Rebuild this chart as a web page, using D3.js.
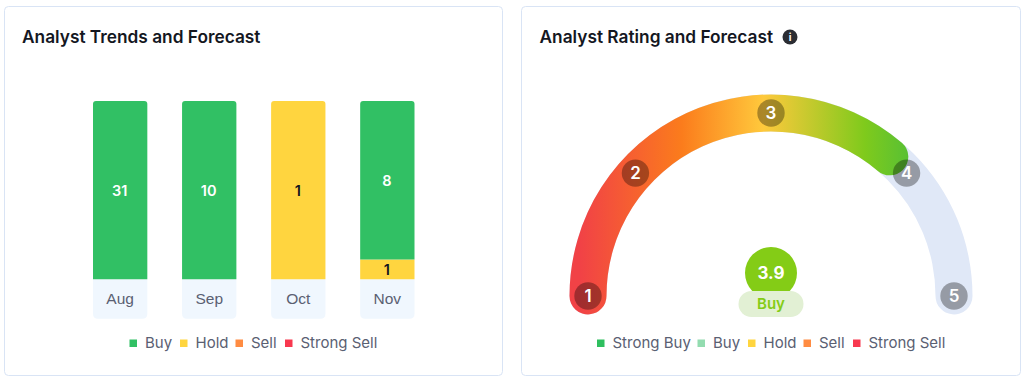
<!DOCTYPE html>
<html>
<head>
<meta charset="utf-8">
<script src="https://cdn.jsdelivr.net/npm/d3@7"></script>
<style>
    html, body { margin: 0; padding: 0; background: #fff; }
    svg { display: block; font-family: Inter, "Noto Sans", sans-serif; }
</style>
</head>
<body>
<div id="chart"></div>
<script>
// --------------- Data --------------- //

const months = ["Aug", "Sep", "Oct", "Nov"];
const stackKeys = ["Hold", "Buy"];
const buyCounts = [31, 10, 0, 8];
const holdCounts = [0, 0, 1, 1];

const trendLegend = ["Buy", "Hold", "Sell", "Strong Sell"];
const ratingLegend = ["Strong Buy", "Buy", "Hold", "Sell", "Strong Sell"];

const ratingTicks = [1, 2, 3, 4, 5];
const ratingTickDegrees = [-90, -47.8, 0, 47.8, 90];
const ratingValue = 3.9;
const ratingLabel = "Buy";

const colors = {
    "Strong Buy": "#2fbf5f",
    Buy: "#31c064",
    Hold: "#ffd53f",
    Sell: "#ff8c42",
    "Strong Sell": "#f8384f",
};

// --------------- Canvas --------------- //

const width = 1024;
const height = 380;
const svg = d3.select("#chart").append("svg").attr("width", width).attr("height", height);

const cards = [
    { x: 4.5, w: 498, title: "Analyst Trends and Forecast", tx: 22 },
    { x: 521.5, w: 499, title: "Analyst Rating and Forecast", tx: 539.5 },
];

svg.selectAll("rect.card")
    .data(cards)
    .join("rect")
    .attr("class", "card")
    .attr("x", (d) => d.x)
    .attr("y", 6.5)
    .attr("width", (d) => d.w)
    .attr("height", 369)
    .attr("rx", 4)
    .attr("fill", "#fff")
    .attr("stroke", "#d9e4f5");

svg.selectAll("text.title")
    .data(cards)
    .join("text")
    .attr("class", "title")
    .attr("x", (d) => d.tx)
    .attr("y", 43)
    .attr("font-size", 17.3)
    .attr("font-weight", 600)
    .attr("fill", "#14171f")
    .text((d) => d.title);

// --------------- Stacked Bars --------------- //

const barTop = 101;
const barBase = 279.3;
const labelBoxBottom = 318.7;

const x = d3.scaleBand().domain(months).range([93, 414.5]).paddingInner(0.39);
const y = d3.scaleLinear().domain([0, 1]).range([barBase, barTop]);

const rows = months.map((m, i) => ({ month: m, Buy: buyCounts[i], Hold: holdCounts[i] }));
const series = d3.stack().keys(stackKeys).offset(d3.stackOffsetExpand)(rows);

// Rounded only on the corners named by top/bottom
const roundedBar = (bx, by, bw, bh, top, bottom) =>
    [
        `M${bx},${by + top}`,
        `Q${bx},${by} ${bx + top},${by}`,
        `H${bx + bw - top}`,
        `Q${bx + bw},${by} ${bx + bw},${by + top}`,
        `V${by + bh - bottom}`,
        `Q${bx + bw},${by + bh} ${bx + bw - bottom},${by + bh}`,
        `H${bx + bottom}`,
        `Q${bx},${by + bh} ${bx},${by + bh - bottom}`,
        "Z",
    ].join(" ");

// Label boxes under the bars
svg.selectAll("path.month-box")
    .data(months)
    .join("path")
    .attr("class", "month-box")
    .attr("fill", "#f0f7fe")
    .attr("d", (m) => roundedBar(x(m), barBase, x.bandwidth(), labelBoxBottom - barBase, 0, 5));

const segments = series.flatMap((s) =>
    s.map((d) => ({ key: s.key, month: d.data.month, y0: d[0], y1: d[1], count: d.data[s.key] }))
).filter((d) => d.count > 0);

svg.selectAll("path.segment")
    .data(segments)
    .join("path")
    .attr("class", "segment")
    .attr("fill", (d) => colors[d.key])
    .attr("d", (d) =>
        roundedBar(x(d.month), y(d.y1), x.bandwidth(), y(d.y0) - y(d.y1), d.y1 === 1 ? 3 : 0, 0)
    );

svg.selectAll("text.segment-label")
    .data(segments)
    .join("text")
    .attr("class", "segment-label")
    .attr("x", (d) => x(d.month) + x.bandwidth() / 2 - 0.5)
    .attr("y", (d) => y((d.y0 + d.y1) / 2))
    .attr("dy", "0.42em")
    .attr("text-anchor", "middle")
    .attr("font-size", 14.5)
    .attr("font-weight", 600)
    .attr("fill", (d) => (d.key === "Hold" ? "#14171f" : "#fff"))
    .text((d) => d.count);

const xAxis = svg
    .append("g")
    .attr("transform", `translate(0,${barBase})`)
    .call(d3.axisBottom(x).tickSize(0).tickPadding(14));
xAxis.select(".domain").remove();
xAxis.selectAll("text")
    .attr("font-family", "inherit")
    .attr("font-size", 15.5)
    .attr("fill", "#5a6072");

// --------------- Legends --------------- //

// The rating legend uses a pale green for Buy
const legendColor = (names, name) =>
    names.length === 5 && name === "Buy" ? "#93dcb0" : colors[name];

const drawLegend = (names, markerXs) => {
    const g = svg.append("g");
    names.forEach((name, i) => {
        g.append("rect")
            .attr("x", markerXs[i])
            .attr("y", 339.5)
            .attr("width", 7.5)
            .attr("height", 7.5)
            .attr("fill", legendColor(names, name));
        g.append("text")
            .attr("x", markerXs[i] + 15.5)
            .attr("y", 348)
            .attr("font-size", 15)
            .attr("fill", "#5a6072")
            .text(name);
    });
};

drawLegend(trendLegend, [129.5, 180, 235.5, 285]);
drawLegend(ratingLegend, [597, 697.5, 748, 803.5, 853]);

// --------------- Gauge --------------- //

const cx = 771;
const cy = 296;
const radius = 183;
const thickness = 37;
const toRadians = (d) => (d * Math.PI) / 180;

// Numbered marks sit on their own angles, the fill runs evenly from 1 to 5
const tickAngle = d3.scaleLinear().domain(ratingTicks).range(ratingTickDegrees.map(toRadians));
const fillAngle = d3.scaleLinear().domain([1, 5]).range([toRadians(-90), toRadians(90)]);

const gauge = svg.append("g").attr("transform", `translate(${cx},${cy})`);

const defs = svg.append("defs");
const gradient = defs
    .append("linearGradient")
    .attr("id", "gauge-fill")
    .attr("gradientUnits", "userSpaceOnUse")
    .attr("x1", -201)
    .attr("x2", 138)
    .attr("y1", 0)
    .attr("y2", 0);
const gradientStops = [
    [0.03, "#f14246"],
    [0.33, "#fb7c1c"],
    [0.57, "#ffc93c"],
    [0.87, "#7fca1c"],
    [1, "#58c034"],
];
gradient
    .selectAll("stop")
    .data(gradientStops)
    .join("stop")
    .attr("offset", (d) => d[0])
    .attr("stop-color", (d) => d[1]);

const arc = d3
    .arc()
    .innerRadius(radius - thickness / 2)
    .outerRadius(radius + thickness / 2)
    .cornerRadius(thickness / 2);

// Caps sit past the tick positions, so pad the arc by half the stroke
const capPad = thickness / 2 / radius;

gauge.append("path")
    .attr("fill", "#e0e8f7")
    .attr("d", arc({ startAngle: fillAngle(1) - capPad, endAngle: fillAngle(5) + capPad }));

gauge.append("path")
    .attr("fill", "url(#gauge-fill)")
    .attr("d", arc({ startAngle: fillAngle(1) - capPad, endAngle: fillAngle(ratingValue) + capPad }));

const tick = gauge
    .selectAll("g.tick-mark")
    .data(ratingTicks)
    .join("g")
    .attr("class", "tick-mark")
    .attr("transform", (d) => `translate(${radius * Math.sin(tickAngle(d))},${-radius * Math.cos(tickAngle(d))})`);

tick.append("circle").attr("r", 13.7).attr("fill", "rgba(0,0,0,0.33)");

tick.append("text")
    .attr("text-anchor", "middle")
    .attr("dy", "0.37em")
    .attr("font-size", 17)
    .attr("font-weight", 600)
    .attr("fill", "#fff")
    .text((d) => d);

// Score badge
gauge.append("circle").attr("cy", -23).attr("r", 26).attr("fill", "#84cc16");

gauge.append("text")
    .attr("y", -23)
    .attr("dy", "0.36em")
    .attr("text-anchor", "middle")
    .attr("font-size", 17)
    .attr("font-weight", 700)
    .attr("fill", "#fff")
    .text(ratingValue);

gauge.append("rect")
    .attr("x", -32.5)
    .attr("y", -5)
    .attr("width", 65)
    .attr("height", 26)
    .attr("rx", 13)
    .attr("fill", "#e2f0d4");

gauge.append("text")
    .attr("y", 8)
    .attr("dy", "0.36em")
    .attr("text-anchor", "middle")
    .attr("font-size", 15)
    .attr("font-weight", 600)
    .attr("fill", "#84cc16")
    .text(ratingLabel);

// Info icon next to the title
const info = svg.append("g").attr("transform", "translate(790,37)");
info.append("circle").attr("r", 7.5).attr("fill", "#2b2d33");
info.append("text")
    .attr("text-anchor", "middle")
    .attr("dy", "0.36em")
    .attr("font-size", 10)
    .attr("font-weight", 700)
    .attr("fill", "#fff")
    .text("i");
</script>
</body>
</html>
